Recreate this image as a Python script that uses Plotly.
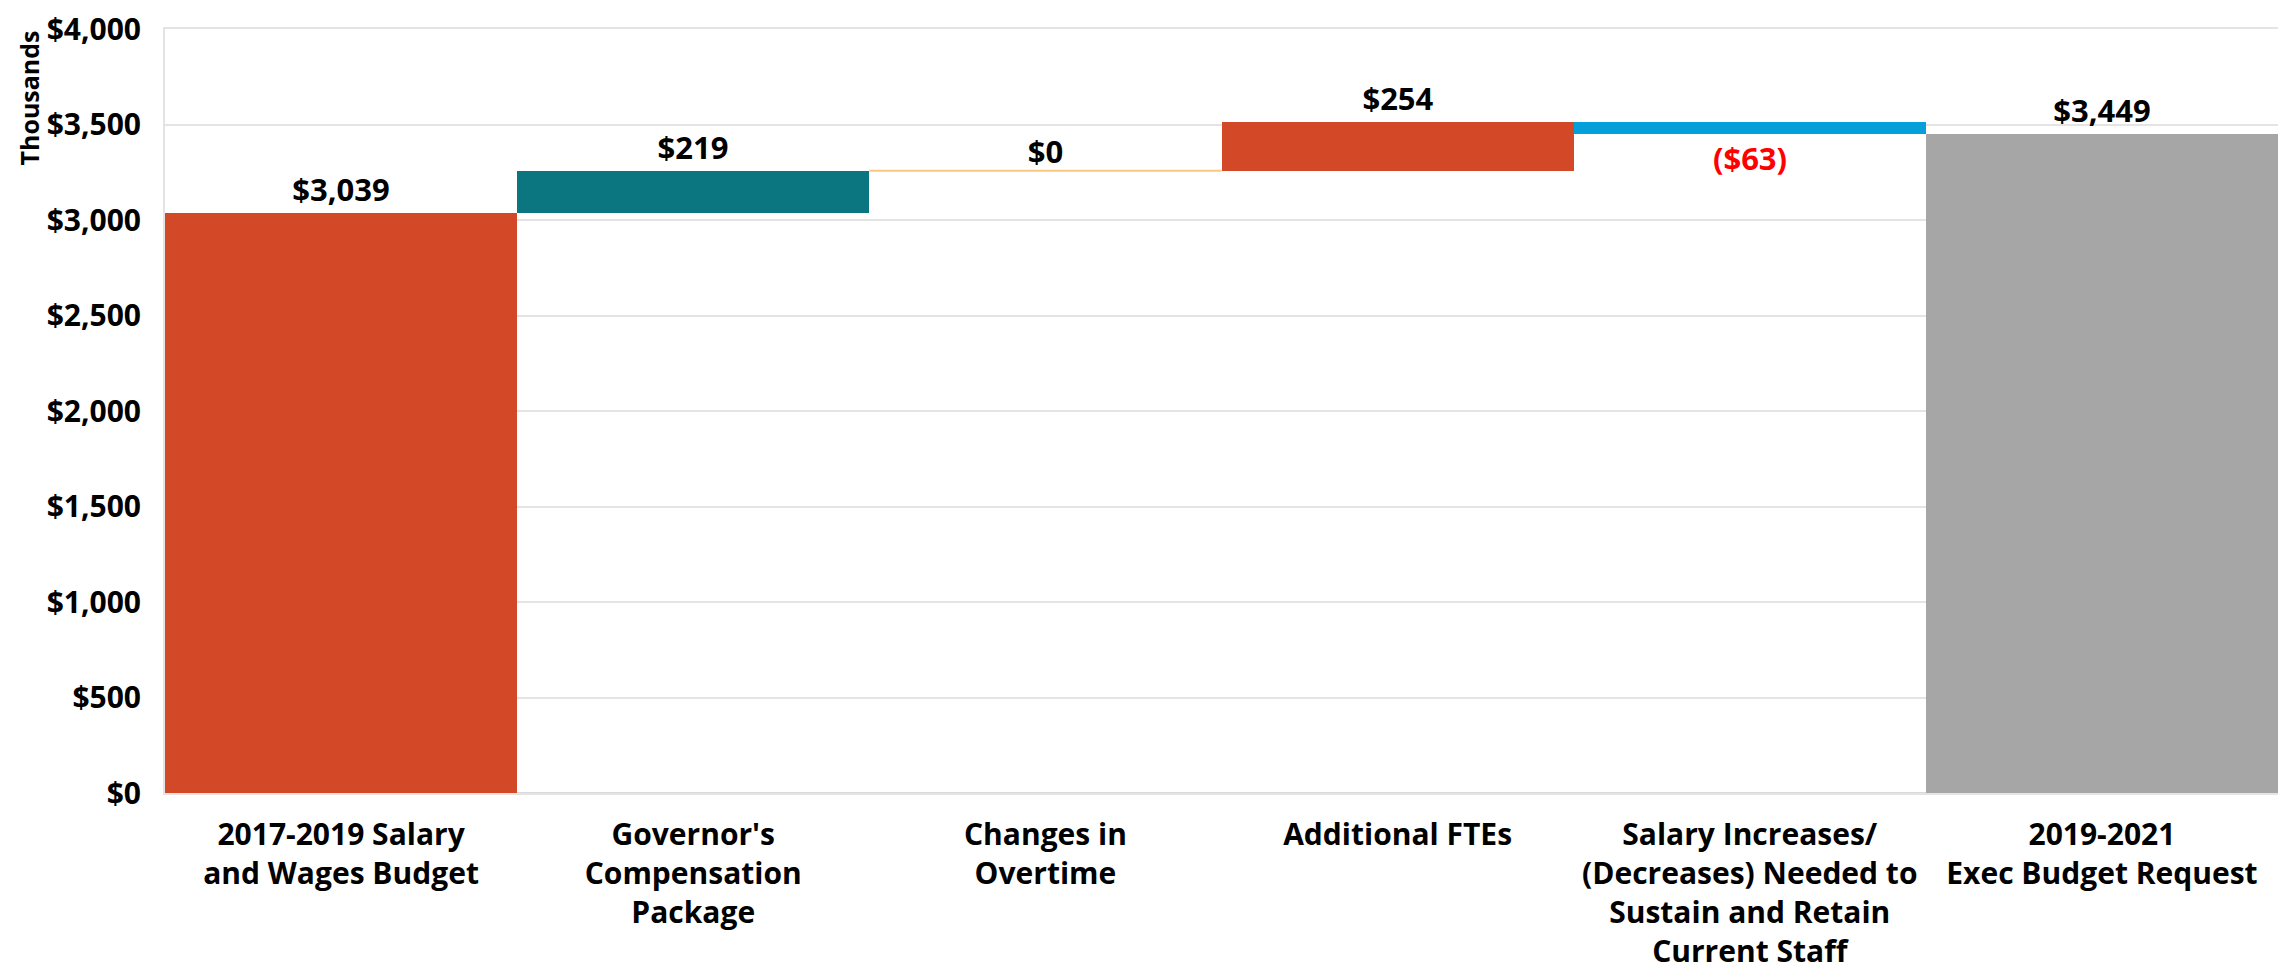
import plotly.graph_objects as go

categories = [
    "2017-2019 Salary<br>and Wages Budget",
    "Governor's<br>Compensation<br>Package",
    "Changes in<br>Overtime",
    "Additional FTEs",
    "Salary Increases/<br>(Decreases) Needed to<br>Sustain and Retain<br>Current Staff",
    "2019-2021<br>Exec Budget Request",
]
values = [3039, 219, 0, 254, -63, 3449]
measures = ["absolute", "relative", "relative", "relative", "relative", "total"]
colors = ["#D34827", "#0B7680", "#F9C87C", "#D34827", "#05A0DA", "#A6A6A6"]
y_ticks = [0, 500, 1000, 1500, 2000, 2500, 3000, 3500, 4000]

FONT = "Open Sans"
LABEL_SIZE = 31

def fmt(v):
    return f"(${abs(v):,.0f})" if v < 0 else f"${v:,.0f}"

bases, heights = [], []
running = 0
for v, m in zip(values, measures):
    if m == "absolute":
        bases.append(0); heights.append(v); running = v
    elif m == "relative":
        bases.append(running); heights.append(v); running += v
    else:
        bases.append(0); heights.append(running)

xs = list(range(len(categories)))
fig = go.Figure()

bar_idx = [i for i in xs if heights[i] != 0]
fig.add_trace(go.Bar(
    x=[xs[i] for i in bar_idx],
    y=[heights[i] for i in bar_idx],
    base=[bases[i] for i in bar_idx],
    width=1,
    marker=dict(color=[colors[i] for i in bar_idx], line=dict(width=0)),
    text=[fmt(values[i]) for i in bar_idx],
    textposition="outside",
    constraintext="none",
    cliponaxis=False,
    outsidetextfont=dict(family=FONT, size=LABEL_SIZE, weight="bold",
                         color=["#FF0000" if values[i] < 0 else "#000000" for i in bar_idx]),
    showlegend=False,
    hoverinfo="skip",
))

for i in xs:
    if heights[i] == 0:
        fig.add_trace(go.Scatter(
            x=[xs[i] - 0.5, xs[i] + 0.5], y=[bases[i], bases[i]],
            mode="lines", line=dict(color=colors[i], width=2),
            showlegend=False, hoverinfo="skip"))
        fig.add_trace(go.Scatter(
            x=[xs[i]], y=[bases[i]], mode="text", text=[fmt(values[i])],
            textposition="top center",
            textfont=dict(family=FONT, size=LABEL_SIZE, color="#000000", weight="bold"),
            showlegend=False, hoverinfo="skip", cliponaxis=False))

fig.update_layout(
    width=2271, height=963,
    margin=dict(l=157, r=1, t=21, b=178, autoexpand=False),
    paper_bgcolor="white", plot_bgcolor="white",
    font=dict(family=FONT, size=28, color="#000000"),
    bargap=0,
    xaxis=dict(
        tickmode="array", tickvals=xs, ticktext=categories,
        range=[-0.5, len(xs) - 0.5], showgrid=False, zeroline=False,
        ticks="", showline=True, mirror=True, linecolor="#E4E4E4", linewidth=2,
        automargin=False, ticklabelstandoff=14,
        tickfont=dict(family=FONT, size=30, color="#000000", weight="bold"),
    ),
    yaxis=dict(
        range=[0, 4000], tickmode="array", tickvals=y_ticks,
        ticktext=[fmt(t) for t in y_ticks],
        showgrid=True, gridcolor="#E4E4E4", gridwidth=2,
        zeroline=True, zerolinecolor="#DADADA", zerolinewidth=2,
        showline=True, linecolor="#E4E4E4", linewidth=2,
        ticks="", ticklabelstandoff=16, automargin=False,
        ticklabeloverflow="allow",
        tickfont=dict(family=FONT, size=30, color="#000000", weight="bold"),
    ),
    annotations=[dict(
        text="<b>Thousands</b>", textangle=-90,
        xref="paper", yref="paper", x=(28 - 165) / 2113, y=1.0,
        xanchor="center", yanchor="top", showarrow=False,
        font=dict(family=FONT, size=25, color="#000000"),
    )],
)

fig.write_html("out.html")
